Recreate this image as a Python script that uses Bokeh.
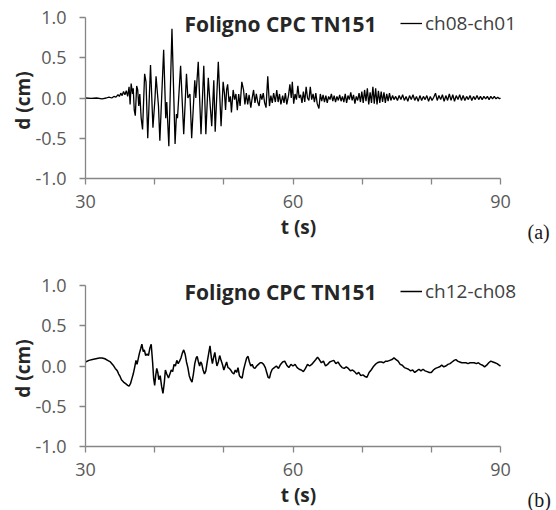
import math
from bokeh.plotting import figure
from bokeh.models import (Range1d, FixedTicker, NumeralTickFormatter, Label,
                          Legend, LegendItem, LinearAxis)
from bokeh.layouts import column
from bokeh.embed import file_html
from bokeh.resources import INLINE

# ---------------- data ----------------
x_ticks = [30, 40, 50, 60, 70, 80, 90]
x_tick_labels = {30: "30", 40: "", 50: "", 60: "60", 70: "", 80: "", 90: "90"}
y_ticks = [-1.0, -0.5, 0.0, 0.5, 1.0]
t_min, t_max = 30, 90
d_min, d_max = -1.0, 1.0

title_text = "Foligno CPC TN151"
name_a = "ch08-ch01"
name_b = "ch12-ch08"

t_a = [30.0, 30.8, 31.6, 32.4, 33.0, 33.4, 33.8, 34.1, 34.4, 34.7,
       34.9, 35.1, 35.3, 35.5, 35.7, 35.9, 36.1, 36.3, 36.45, 36.6,
       36.8, 36.9, 37.05, 37.2, 37.4, 37.55, 37.7, 37.85, 38.05, 38.25,
       38.55, 38.75, 39.0, 39.4, 39.75, 40.05, 40.2, 40.55, 40.75, 41.3,
       41.6, 41.75, 42.05, 42.5, 42.95, 43.15, 43.3, 43.75, 44.2, 44.6,
       44.8, 45.1, 45.35, 45.8, 45.95, 46.3, 46.7, 47.1, 47.4, 47.75,
       47.95, 48.25, 48.55, 48.75, 49.2, 49.6, 49.9, 50.1, 50.25, 50.4,
       50.55, 50.75, 50.95, 51.1, 51.35, 51.55, 51.75, 51.95, 52.15, 52.35,
       52.6, 52.85, 53.05, 53.25, 53.45, 53.65, 53.9, 54.1, 54.3, 54.5,
       54.7, 54.9, 55.1, 55.3, 55.5, 55.7, 55.9, 56.1, 56.35, 56.6,
       56.8, 57.0, 57.2, 57.45, 57.65, 57.85, 58.05, 58.25, 58.5, 58.7,
       58.9, 59.1, 59.35, 59.55, 59.75, 59.9, 60.1, 60.3, 60.5, 60.7,
       60.9, 61.1, 61.3, 61.5, 61.7, 61.9, 62.1, 62.3, 62.5, 62.7,
       62.9, 63.1, 63.3, 63.5, 63.75, 63.95, 64.15, 64.35, 64.55, 64.75,
       64.95, 65.15, 65.35, 65.55, 65.75, 65.95, 66.15, 66.35, 66.55, 66.75,
       66.95, 67.15, 67.35, 67.55, 67.75, 67.95, 68.15, 68.35, 68.55, 68.75,
       68.95, 69.15, 69.35, 69.55, 69.75, 69.95, 70.15, 70.35, 70.55, 70.75,
       70.95, 71.15, 71.35, 71.55, 71.75, 71.95, 72.15, 72.35, 72.55, 72.75,
       72.95, 73.15, 73.35, 73.55, 73.75, 73.95, 74.15, 74.4, 74.6, 74.85,
       75.1, 75.35, 75.6, 75.85, 76.1, 76.35, 76.6, 76.85, 77.1, 77.35,
       77.6, 77.85, 78.1, 78.35, 78.6, 78.85, 79.1, 79.35, 79.6, 79.85,
       80.1, 80.35, 80.6, 80.85, 81.1, 81.35, 81.6, 81.85, 82.1, 82.35,
       82.6, 82.85, 83.1, 83.35, 83.6, 83.85, 84.1, 84.35, 84.6, 84.85,
       85.1, 85.35, 85.6, 85.85, 86.1, 86.35, 86.6, 86.85, 87.1, 87.35,
       87.6, 87.85, 88.1, 88.35, 88.6, 88.85, 89.1, 89.35, 89.6, 89.85,
       90.0]
d_a = [0.00, -0.005, 0.0, -0.01, 0.0, 0.01, 0.0, 0.02, 0.01, 0.04,
       0.02, 0.06, 0.03, 0.08, 0.04, 0.09, 0.02, 0.14, -0.08, 0.18,
       0.05, 0.12, -0.15, -0.22, 0.15, 0.10, -0.10, 0.05, -0.25, -0.39,
       0.30, 0.20, -0.50, 0.41, -0.37, 0.00, 0.27, -0.10, -0.53, 0.60,
       -0.25, -0.05, -0.60, 0.86, -0.57, -0.20, -0.25, 0.40, -0.45, 0.30,
       0.00, 0.05, -0.50, 0.22, 0.00, 0.45, -0.45, 0.40, -0.45, 0.25,
       0.00, -0.35, 0.22, -0.42, 0.45, -0.35, 0.20, 0.05, -0.15, 0.10,
       0.17, -0.05, 0.02, -0.18, 0.10, -0.02, 0.05, -0.15, 0.05, -0.10,
       0.20, 0.10, -0.08, 0.06, -0.08, 0.04, -0.12, 0.00, 0.10, -0.06,
       0.05, -0.05, -0.10, 0.05, -0.02, 0.06, -0.06, -0.12, 0.27, -0.10,
       0.03, -0.06, 0.06, -0.05, 0.10, -0.05, 0.05, -0.08, 0.03, -0.06,
       0.06, -0.08, 0.03, 0.17, 0.00, 0.20, -0.07, 0.05, -0.02, 0.15,
       0.00, 0.04, -0.06, 0.08, -0.05, 0.14, 0.00, -0.03, 0.14, -0.02,
       0.05, -0.05, 0.06, -0.07, -0.13, 0.05, -0.04, 0.04, -0.05, 0.03,
       -0.06, 0.02, -0.02, 0.05, -0.04, 0.03, -0.05, 0.02, -0.03, 0.04,
       -0.04, 0.02, -0.05, 0.05, -0.06, 0.03, -0.02, 0.07, -0.03, 0.04,
       -0.07, 0.02, -0.03, 0.06, -0.05, 0.08, -0.06, 0.10, -0.04, 0.12,
       -0.08, 0.07, -0.06, 0.14, -0.07, 0.12, -0.08, 0.09, -0.06, 0.08,
       -0.05, 0.07, -0.06, 0.05, -0.04, 0.06, -0.03, 0.03, -0.02, 0.02,
       -0.03, 0.03, -0.02, 0.04, -0.03, 0.02, -0.04, 0.03, -0.02, 0.04,
       -0.03, 0.02, -0.04, 0.03, -0.03, 0.02, -0.02, 0.03, -0.04, 0.02,
       -0.03, 0.01, 0.06, -0.03, 0.03, -0.02, 0.04, -0.04, 0.03, -0.03,
       0.05, -0.03, 0.04, -0.04, 0.03, -0.02, 0.04, -0.03, 0.03, -0.03,
       0.02, -0.02, 0.03, -0.03, 0.02, -0.02, 0.03, -0.02, 0.02, -0.02,
       0.02, -0.01, 0.02, -0.02, 0.02, -0.01, 0.02, -0.01, 0.01, -0.01,
       0.00]

t_b = [30.0, 30.5, 31.0, 31.5, 32.0, 32.4, 32.8, 33.2, 33.6, 34.0,
       34.3, 34.6, 34.8, 35.0, 35.2, 35.5, 35.8, 36.1, 36.3, 36.5,
       36.7, 36.9, 37.1, 37.3, 37.45, 37.6, 37.8, 38.0, 38.15, 38.35,
       38.5, 38.7, 38.9, 39.1, 39.3, 39.5, 39.7, 39.85, 40.0, 40.15,
       40.3, 40.45, 40.6, 40.8, 41.0, 41.2, 41.4, 41.55, 41.75, 42.0,
       42.2, 42.4, 42.6, 42.8, 43.0, 43.2, 43.4, 43.6, 43.8, 44.0,
       44.2, 44.4, 44.6, 44.8, 45.0, 45.2, 45.4, 45.6, 45.8, 46.0,
       46.15, 46.3, 46.5, 46.65, 46.8, 47.0, 47.2, 47.4, 47.6, 47.8,
       48.0, 48.2, 48.35, 48.5, 48.7, 48.85, 49.0, 49.2, 49.4, 49.6,
       49.8, 50.0, 50.2, 50.4, 50.6, 50.8, 51.0, 51.2, 51.45, 51.65,
       51.85, 52.05, 52.25, 52.45, 52.65, 52.85, 53.05, 53.3, 53.5, 53.7,
       53.9, 54.1, 54.3, 54.5, 54.75, 55.0, 55.25, 55.5, 55.75, 56.0,
       56.2, 56.4, 56.6, 56.8, 57.0, 57.3, 57.6, 57.9, 58.2, 58.5,
       58.8, 59.1, 59.4, 59.7, 60.0, 60.3, 60.6, 60.9, 61.2, 61.5,
       61.8, 62.1, 62.4, 62.7, 63.0, 63.3, 63.55, 63.8, 64.1, 64.4,
       64.7, 65.0, 65.3, 65.6, 65.9, 66.2, 66.5, 66.8, 67.1, 67.4,
       67.7, 68.0, 68.3, 68.6, 68.9, 69.2, 69.5, 69.8, 70.1, 70.4,
       70.7, 71.0, 71.3, 71.6, 71.9, 72.2, 72.5, 72.8, 73.1, 73.4,
       73.7, 74.0, 74.3, 74.6, 74.9, 75.2, 75.5, 75.8, 76.1, 76.4,
       76.7, 77.0, 77.3, 77.6, 77.9, 78.2, 78.5, 78.8, 79.1, 79.4,
       79.7, 80.0, 80.3, 80.6, 80.9, 81.2, 81.5, 81.8, 82.1, 82.4,
       82.7, 83.0, 83.3, 83.55, 83.8, 84.1, 84.4, 84.7, 85.0, 85.3,
       85.6, 85.9, 86.2, 86.5, 86.8, 87.1, 87.4, 87.7, 88.0, 88.3,
       88.6, 88.9, 89.2, 89.5, 89.8, 90.0]
d_b = [0.05, 0.07, 0.08, 0.09, 0.10, 0.10, 0.09, 0.07, 0.05, 0.01,
       -0.03, -0.06, -0.10, -0.13, -0.17, -0.20, -0.22, -0.24, -0.25, -0.22,
       -0.16, -0.10, -0.02, 0.07, 0.02, 0.08, 0.16, 0.22, 0.27, 0.18,
       0.20, 0.13, 0.15, 0.13, 0.22, 0.27, 0.05, -0.15, -0.24, -0.12,
       -0.03, -0.08, -0.17, -0.12, -0.25, -0.34, -0.20, -0.05, -0.10, -0.15,
       -0.10, -0.05, -0.07, 0.02, 0.00, 0.07, 0.03, 0.06, 0.10, 0.16,
       0.20, 0.15, 0.05, -0.02, -0.12, -0.17, -0.20, -0.10, 0.03, 0.10,
       0.12, 0.06, 0.00, 0.05, 0.03, -0.05, -0.10, -0.06, 0.05, 0.15,
       0.25, 0.10, 0.03, 0.10, 0.17, 0.08, 0.00, 0.05, 0.13, 0.07,
       0.02, -0.05, 0.00, 0.05, -0.02, -0.03, -0.05, -0.08, -0.10, -0.05,
       -0.08, -0.02, -0.12, -0.14, -0.15, -0.05, 0.02, 0.10, 0.12, 0.05,
       0.00, 0.02, -0.02, -0.03, 0.00, 0.02, 0.04, 0.04, 0.02, -0.02,
       -0.08, -0.14, -0.15, -0.08, -0.04, -0.02, 0.00, -0.03, 0.02, 0.05,
       0.06, 0.01, -0.02, 0.02, 0.00, 0.02, -0.02, -0.04, -0.05, -0.07,
       -0.03, 0.02, 0.00, 0.02, 0.05, 0.08, 0.11, 0.08, 0.04, 0.06,
       0.00, 0.02, 0.05, 0.06, 0.07, 0.03, 0.05, 0.01, -0.02, -0.03,
       -0.01, -0.03, -0.06, -0.05, -0.07, -0.10, -0.08, -0.12, -0.11, -0.13,
       -0.14, -0.08, -0.05, -0.01, 0.02, 0.04, 0.05, 0.05, 0.04, 0.06,
       0.06, 0.07, 0.08, 0.10, 0.08, 0.06, 0.02, 0.01, -0.02, -0.03,
       -0.04, -0.06, -0.05, -0.08, -0.06, -0.04, -0.06, -0.04, -0.06, -0.07,
       -0.08, -0.08, -0.05, -0.03, -0.02, -0.01, 0.01, -0.01, 0.00, 0.02,
       0.03, 0.05, 0.07, 0.08, 0.06, 0.05, 0.04, 0.04, 0.04, 0.03,
       0.04, 0.04, 0.04, 0.03, 0.04, 0.02, 0.01, -0.01, 0.01, 0.04,
       0.06, 0.05, 0.04, 0.03, 0.01, 0.00]

# ---------------- styling / layout ----------------
FONT = "Open Sans"
AXIS_GREY = "#868686"
TICK_TEXT = "#595959"
DARK_TEXT = "#262626"

W = 556
PLOT_LEFT, PLOT_RIGHT = 85, 500       # pixel columns of t=30 and t=90
PLOT_H = 161                          # pixels from d=1 to d=-1


def panel(t, d, series_name, tag, height, plot_top, lw):
    sx = (PLOT_RIGHT - PLOT_LEFT) / (t_max - t_min)
    sy = PLOT_H / (d_max - d_min)

    def X(px):
        return t_min + (px - PLOT_LEFT) / sx

    def Y(py):
        return d_max - (py - plot_top) / sy

    p = figure(width=W, height=height,
               x_range=Range1d(X(0), X(W)), y_range=Range1d(Y(height), Y(0)),
               output_backend="svg", toolbar_location=None,
               x_axis_location=None, y_axis_location=None,
               min_border_left=0, min_border_right=0,
               min_border_top=0, min_border_bottom=0)
    p.outline_line_color = None
    p.xgrid.visible = False
    p.ygrid.visible = False

    r = p.line(t, d, line_color="black", line_width=lw)

    xa = LinearAxis(fixed_location=d_min, bounds=(t_min, t_max),
                    ticker=FixedTicker(ticks=x_ticks))
    xa.major_label_overrides = x_tick_labels
    ya = LinearAxis(fixed_location=t_min, bounds=(d_min, d_max),
                    ticker=FixedTicker(ticks=y_ticks),
                    formatter=NumeralTickFormatter(format="0.0"))
    for ax in (xa, ya):
        ax.axis_line_color = AXIS_GREY
        ax.axis_line_width = 1.3
        ax.major_tick_line_color = AXIS_GREY
        ax.major_tick_line_width = 1.3
        ax.major_tick_out = 6
        ax.major_tick_in = 0
        ax.minor_tick_line_color = None
        ax.major_label_text_font = FONT
        ax.major_label_text_font_size = "18px"
        ax.major_label_text_color = TICK_TEXT
    xa.major_label_standoff = 10
    ya.major_label_standoff = 13
    p.add_layout(xa, "below")
    p.add_layout(ya, "left")

    # axis titles, panel title, panel tag
    p.add_layout(Label(x=X(22), y=Y(plot_top + 83), text="d (cm)", text_font=FONT,
                       text_font_style="bold", text_font_size="19px",
                       text_color=DARK_TEXT, text_align="center",
                       text_baseline="middle", angle=math.pi / 2))
    p.add_layout(Label(x=X(298), y=Y(plot_top + 209), text="t (s)", text_font=FONT,
                       text_font_style="bold", text_font_size="19px",
                       text_color=DARK_TEXT, text_align="center",
                       text_baseline="middle"))
    p.add_layout(Label(x=X(527), y=Y(plot_top + 214), text=tag,
                       text_font="Liberation Serif", text_font_size="20px",
                       text_color="#1a1a1a", text_align="left",
                       text_baseline="middle"))
    p.add_layout(Label(x=X(184), y=Y(plot_top + 6), text=title_text, text_font=FONT,
                       text_font_style="bold", text_font_size="21px",
                       text_color=DARK_TEXT, text_align="left",
                       text_baseline="middle"))

    legend = Legend(items=[LegendItem(label=series_name, renderers=[r])],
                    location=(400, height - (plot_top + 6) - 13),
                    glyph_width=22, glyph_height=20,
                    label_standoff=3, padding=0, margin=0, spacing=0,
                    border_line_color=None, background_fill_alpha=0,
                    label_text_font=FONT, label_text_font_size="19px",
                    label_text_color="#404040", label_height=20)
    p.add_layout(legend)
    return p


p1 = panel(t_a, d_a, name_a, "(a)", 255, 17, 1.3)
p2 = panel(t_b, d_b, name_b, "(b)", 255, 30, 1.5)

layout = column(p1, p2, spacing=0)
open("out.html", "w").write(file_html(layout, INLINE))
